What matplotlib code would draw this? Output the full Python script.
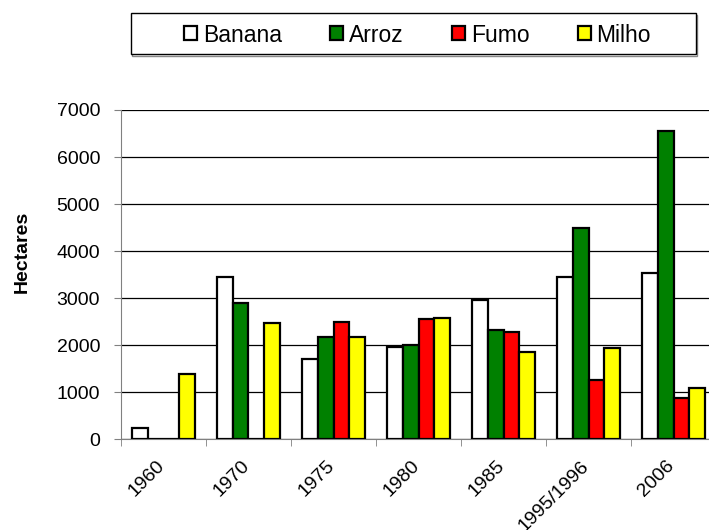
import numpy as np
import matplotlib.pyplot as plt
import matplotlib.transforms as mtransforms
from matplotlib.patches import Rectangle

anos = ['1960', '1970', '1975', '1980', '1985', '1995/1996', '2006']
banana = [250, 3450, 1710, 1960, 2970, 3460, 3540]
arroz = [0, 2900, 2170, 2000, 2320, 4500, 6550]
fumo = [0, 0, 2500, 2550, 2290, 1260, 880]
milho = [1390, 2480, 2170, 2570, 1850, 1950, 1100]

series = [('Banana', banana, 'white'), ('Arroz', arroz, 'green'),
          ('Fumo', fumo, 'red'), ('Milho', milho, 'yellow')]

plt.rcParams['font.family'] = ['Liberation Sans', 'DejaVu Sans']

W, H = 709, 530
fig = plt.figure(figsize=(W / 100, H / 100), dpi=100)
ax = fig.add_axes([121 / W, 1 - 439.3 / H, 595 / W, 329.3 / H])

x = np.arange(len(anos))
w = 0.185
for i, (nome, vals, cor) in enumerate(series):
    ax.bar(x + (i - 1.5) * w, vals, w, color=cor, edgecolor='black',
           linewidth=1.6, label=nome, zorder=3)

ax.set_xlim(-0.5, len(anos) - 0.5)
ax.set_ylim(0, 7000)
ax.set_yticks(range(0, 7001, 1000))
ax.yaxis.grid(True, color='black', linewidth=0.9, zorder=0)
ax.set_axisbelow(True)

ax.set_xticks(x)
ax.set_xticklabels(anos, rotation=45, ha='right', rotation_mode='anchor', fontsize=14)
ax.set_xticks(np.arange(-0.5, len(anos)), minor=True)
ax.tick_params(axis='x', which='major', length=0, pad=13)
ax.tick_params(axis='x', which='minor', length=5, color='gray')
ax.tick_params(axis='y', length=5, color='gray', labelsize=14, pad=10)

# shift the rotated labels a little to the left, like the original
shift = mtransforms.ScaledTranslation(-8 / 100, 0, fig.dpi_scale_trans)
for lab in ax.get_xticklabels():
    lab.set_transform(lab.get_transform() + shift)

for s in ['top', 'right']:
    ax.spines[s].set_visible(False)
ax.spines['left'].set_color('gray')
ax.spines['bottom'].set_color('gray')

fig.text(22 / W, 1 - 252 / H, 'Hectares', rotation=90, ha='center', va='center',
         fontsize=14, fontweight='bold')

# legend box (with a faint shadow)
fig.patches.append(Rectangle((132 / W, 1 - 55.5 / H), 565 / W, 41 / H,
                             transform=fig.transFigure, facecolor='none',
                             edgecolor='#888888', linewidth=1.0))
fig.patches.append(Rectangle((131 / W, 1 - 54.3 / H), 565 / W, 41 / H,
                             transform=fig.transFigure, facecolor='white',
                             edgecolor='black', linewidth=1.0))
leg = fig.legend(loc='center', bbox_to_anchor=(417.5 / W, 1 - 35 / H),
                 ncol=4, fontsize=16.5, frameon=False,
                 handlelength=0.57, handleheight=0.57,
                 handletextpad=0.26, columnspacing=2.1, borderpad=0)
for h in leg.legend_handles:
    h.set_linewidth(1.6)

fig.savefig('out.png', dpi=100)
